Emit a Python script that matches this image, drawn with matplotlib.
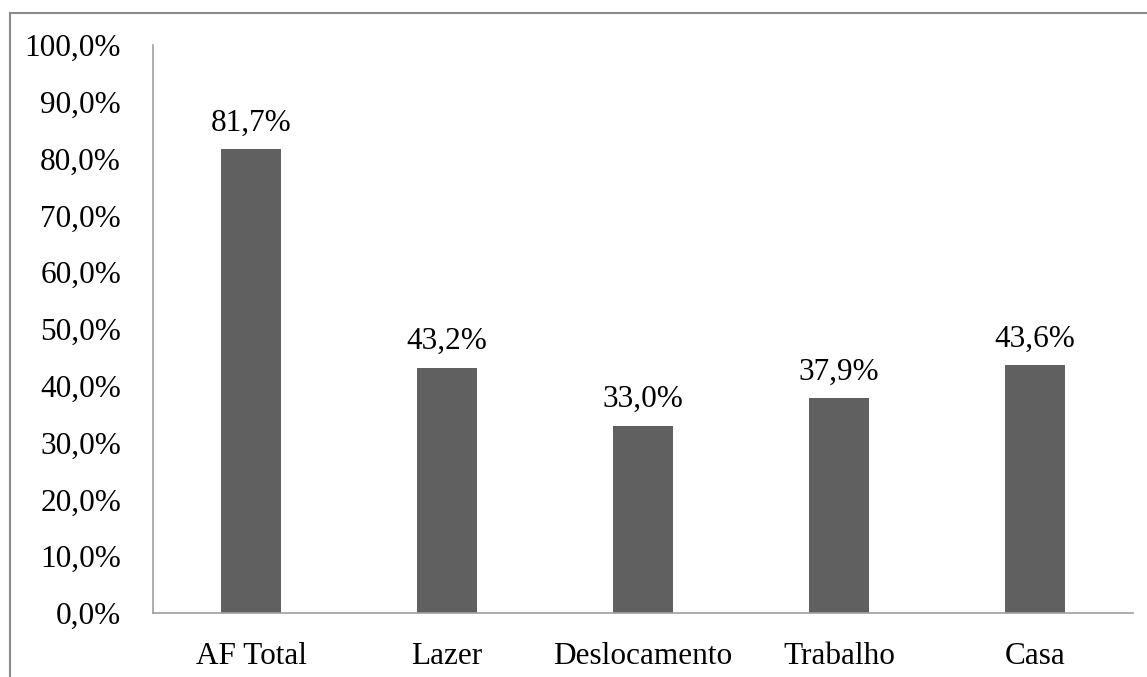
import matplotlib
matplotlib.use('Agg')
import matplotlib.pyplot as plt
from matplotlib.patches import Rectangle
from matplotlib.ticker import FuncFormatter

categorias = ['AF Total', 'Lazer', 'Deslocamento', 'Trabalho', 'Casa']
valores = [81.7, 43.2, 33.0, 37.9, 43.6]

plt.rcParams['font.family'] = ['Liberation Serif', 'DejaVu Serif']

W, H = 1147, 677
fig = plt.figure(figsize=(W/100, H/100), dpi=100)
ax = fig.add_axes([153/W, 1 - 613/H, (1133-153)/W, (613-45)/H])

x = range(len(categorias))
ax.bar(x, valores, width=0.31, color='#606060')
for xi, v in zip(x, valores):
    ax.text(xi, v + 2.0, ('%.1f%%' % v).replace('.', ','), ha='center', va='bottom', fontsize=22.5)

ax.set_ylim(0, 100)
ax.set_xlim(-0.5, len(categorias) - 0.5)
ax.set_yticks(range(0, 101, 10))
ax.yaxis.set_major_formatter(FuncFormatter(lambda v, p: ('%.1f%%' % v).replace('.', ',')))
ax.set_xticks(list(x))
ax.set_xticklabels(categorias)
ax.tick_params(axis='both', length=0, labelsize=22.5)
ax.tick_params(axis='y', pad=23)
ax.tick_params(axis='x', pad=21)

for s in ['top', 'right']:
    ax.spines[s].set_visible(False)
for s in ['left', 'bottom']:
    ax.spines[s].set_color('#a0a0a0')
    ax.spines[s].set_linewidth(1.2)

# rahmen um das diagramm (nur links und oben sichtbar)
fig.patches.append(Rectangle((10/W, -0.1), 1.2, 1.1 - 13/H, transform=fig.transFigure,
                             fill=False, edgecolor='#8a8a8a', linewidth=1.5))

fig.savefig('out.png', dpi=100)
